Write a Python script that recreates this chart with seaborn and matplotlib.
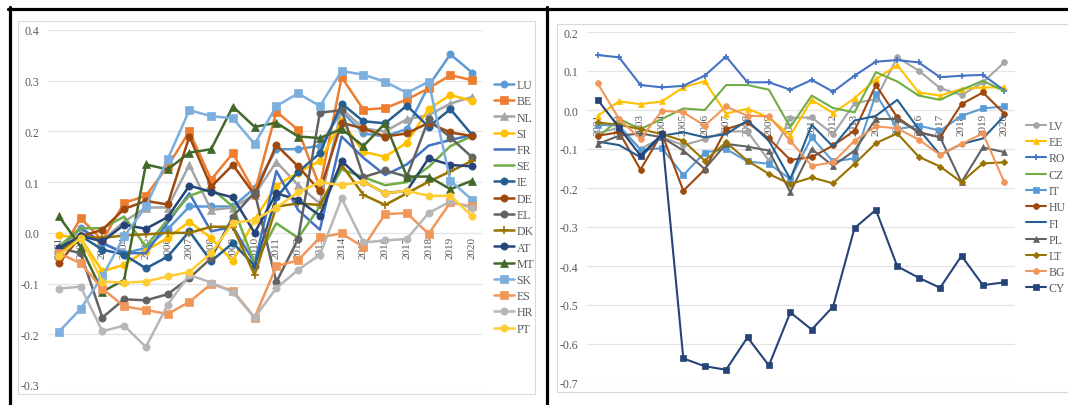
import matplotlib
matplotlib.use("Agg")
import matplotlib.pyplot as plt
import seaborn as sns
from matplotlib.lines import Line2D
from matplotlib.patches import Rectangle

# ================== data ==================
YEARS = list(range(2001, 2021))

# left panel
LU = [-0.03, 0.01, -0.02, -0.04, -0.03, 0.007, 0.052, 0.052, 0.052, 0.088, 0.165, 0.165, 0.172, 0.24, 0.196, 0.19, 0.205, 0.29, 0.352, 0.316]
BE = [-0.045, 0.029, -0.015, 0.059, 0.073, 0.131, 0.2, 0.105, 0.157, 0.08, 0.239, 0.203, 0.09, 0.307, 0.243, 0.246, 0.263, 0.285, 0.311, 0.301]
NL = [-0.025, 0.0, -0.015, 0.022, 0.05, 0.05, 0.134, 0.045, 0.05, 0.075, 0.14, 0.094, 0.058, 0.245, 0.206, 0.2, 0.224, 0.232, 0.255, 0.268]
SI = [-0.005, -0.01, -0.076, -0.063, -0.035, -0.01, 0.022, -0.01, -0.056, 0.026, 0.093, 0.119, 0.142, 0.22, 0.16, 0.15, 0.178, 0.244, 0.272, 0.26]
FR = [-0.03, 0.01, -0.02, -0.04, -0.04, 0.02, 0.078, 0.003, 0.012, -0.06, 0.122, 0.045, 0.006, 0.19, 0.148, 0.114, 0.135, 0.172, 0.183, 0.193]
SE = [-0.027, 0.009, 0.009, 0.032, -0.027, 0.026, 0.073, 0.088, 0.052, -0.06, 0.019, -0.01, 0.052, 0.125, 0.11, 0.094, 0.1, 0.13, 0.171, 0.191]
IE = [-0.035, -0.006, -0.033, -0.043, -0.07, -0.047, 0.003, -0.056, -0.02, -0.065, 0.07, 0.12, 0.157, 0.255, 0.22, 0.216, 0.251, 0.209, 0.244, 0.193]
DE = [-0.06, -0.007, 0.006, 0.047, 0.063, 0.056, 0.19, 0.091, 0.134, 0.075, 0.173, 0.131, 0.083, 0.217, 0.206, 0.19, 0.196, 0.217, 0.198, 0.191]
EL = [-0.03, -0.04, -0.167, -0.131, -0.133, -0.121, -0.089, -0.05, 0.032, 0.08, -0.097, -0.012, 0.237, 0.242, 0.11, 0.123, 0.111, 0.224, 0.188, 0.149]
DK = [-0.04, -0.007, -0.01, -0.005, -0.003, 0.0, 0.0, 0.012, 0.012, -0.083, 0.052, 0.058, 0.055, 0.134, 0.075, 0.055, 0.078, 0.101, 0.121, 0.142]
AT = [-0.03, -0.006, -0.017, 0.016, 0.008, 0.031, 0.093, 0.081, 0.07, 0.0, 0.078, 0.065, 0.034, 0.142, 0.101, 0.078, 0.083, 0.147, 0.134, 0.131]
MT = [0.033, -0.027, -0.116, -0.093, 0.135, 0.125, 0.158, 0.165, 0.249, 0.209, 0.217, 0.19, 0.187, 0.205, 0.171, 0.216, 0.111, 0.111, 0.086, 0.103]
SK = [-0.195, -0.15, -0.086, -0.007, 0.052, 0.145, 0.242, 0.23, 0.226, 0.175, 0.25, 0.275, 0.25, 0.319, 0.312, 0.298, 0.276, 0.298, 0.103, 0.065]
ES = [-0.04, -0.06, -0.11, -0.145, -0.152, -0.16, -0.136, -0.101, -0.114, -0.167, -0.066, -0.054, -0.009, -0.001, -0.028, 0.037, 0.039, -0.002, 0.06, 0.052]
HR = [-0.11, -0.106, -0.194, -0.183, -0.225, -0.142, -0.083, -0.098, -0.117, -0.167, -0.109, -0.073, -0.043, 0.068, -0.019, -0.015, -0.012, 0.039, 0.062, 0.049]
PT = [-0.045, -0.01, -0.096, -0.098, -0.096, -0.086, -0.077, -0.04, 0.02, 0.025, 0.05, 0.08, 0.1, 0.094, 0.101, 0.078, 0.083, 0.073, 0.073, 0.033]

# right panel
LV = [-0.06, -0.045, -0.1, -0.07, -0.09, -0.075, -0.055, -0.055, -0.13, -0.02, -0.019, -0.062, 0.017, 0.028, 0.135, 0.101, 0.056, 0.038, 0.071, 0.122]
EE = [-0.015, 0.022, 0.015, 0.022, 0.058, 0.074, -0.009, 0.003, -0.019, -0.065, 0.026, -0.008, 0.03, 0.079, 0.115, 0.045, 0.037, 0.054, 0.058, 0.058]
RO = [0.141, 0.135, 0.064, 0.058, 0.062, 0.088, 0.137, 0.071, 0.071, 0.052, 0.077, 0.047, 0.088, 0.124, 0.128, 0.122, 0.084, 0.088, 0.09, 0.05]
CZ = [-0.07, -0.023, -0.049, -0.023, 0.004, 0.0, 0.064, 0.064, 0.052, -0.044, 0.037, 0.005, -0.006, 0.097, 0.073, 0.037, 0.026, 0.052, 0.075, 0.048]
IT = [-0.038, -0.04, -0.102, -0.098, -0.167, -0.109, -0.1, -0.132, -0.138, -0.177, -0.07, -0.132, -0.124, 0.041, -0.049, -0.04, -0.053, -0.015, 0.004, 0.009]
HU = [-0.066, -0.057, -0.153, -0.06, -0.207, -0.153, -0.049, -0.032, -0.073, -0.128, -0.121, -0.091, -0.053, 0.064, -0.019, -0.057, -0.07, 0.015, 0.045, -0.009]
FI = [-0.081, -0.09, -0.121, -0.066, -0.057, -0.07, -0.062, -0.027, -0.079, -0.177, -0.038, -0.094, -0.027, -0.015, 0.026, -0.049, -0.115, -0.087, -0.073, -0.015]
PL = [-0.087, -0.066, -0.06, -0.07, -0.104, -0.151, -0.087, -0.094, -0.104, -0.211, -0.1, -0.143, -0.104, -0.023, -0.023, -0.057, -0.07, -0.185, -0.096, -0.108]
LT = [-0.032, -0.038, -0.049, -0.062, -0.079, -0.13, -0.083, -0.13, -0.164, -0.19, -0.173, -0.188, -0.138, -0.085, -0.06, -0.12, -0.145, -0.185, -0.137, -0.134]
BG = [0.068, -0.023, -0.074, -0.002, -0.006, -0.04, 0.009, -0.015, -0.016, -0.079, -0.143, -0.134, -0.079, -0.042, -0.047, -0.076, -0.115, -0.087, -0.06, -0.185]
CY = [0.026, -0.045, -0.117, -0.062, -0.637, -0.657, -0.666, -0.583, -0.655, -0.519, -0.563, -0.504, -0.303, -0.256, -0.401, -0.43, -0.456, -0.374, -0.449, -0.442]

LEFT_TICKS = [-0.3, -0.2, -0.1, 0.0, 0.1, 0.2, 0.3, 0.4]
RIGHT_TICKS = [-0.7, -0.6, -0.5, -0.4, -0.3, -0.2, -0.1, 0.0, 0.1, 0.2]

# (name, values, colour, marker)
LEFT_SERIES = [
    ("LU", LU, "#5B9BD5", "o"), ("BE", BE, "#ED7D31", "s"), ("NL", NL, "#A5A5A5", "^"),
    ("SI", SI, "#FFC000", "o"), ("FR", FR, "#4472C4", None), ("SE", SE, "#70AD47", None),
    ("IE", IE, "#255E91", "o"), ("DE", DE, "#9E480E", "o"), ("EL", EL, "#636363", "o"),
    ("DK", DK, "#997300", "+"), ("AT", AT, "#264478", "o"), ("MT", MT, "#43682B", "^"),
    ("SK", SK, "#7CAFDD", "s"), ("ES", ES, "#F1975A", "s"), ("HR", HR, "#B7B7B7", "o"),
    ("PT", PT, "#FFCD33", "o"),
]
RIGHT_SERIES = [
    ("LV", LV, "#A5A5A5", "o"), ("EE", EE, "#FFC000", "^"), ("RO", RO, "#4472C4", "+"),
    ("CZ", CZ, "#70AD47", None), ("IT", IT, "#5B9BD5", "s"), ("HU", HU, "#9E480E", "o"),
    ("FI", FI, "#255E91", None), ("PL", PL, "#636363", "^"), ("LT", LT, "#997300", "D"),
    ("BG", BG, "#F1975A", "o"), ("CY", CY, "#264478", "s"),
]
# ==========================================

W, H = 1068, 406
TXT = "#595959"


def fx(x):
    return x / W


def fy(y):
    return 1 - y / H


def draw_panel(ax, series, ticks, lw, ms):
    for name, vals, col, mk in series:
        kw = dict(marker=mk, markersize=ms, markeredgecolor=col, markerfacecolor=col,
                  markeredgewidth=1.2 if mk == "+" else 0.5) if mk else {}
        if mk == "D":
            kw["markersize"] = ms * 0.8
        sns.lineplot(x=YEARS, y=vals, color=col, linewidth=lw, label=name, ax=ax, **kw)

    ax.set_xlim(2000.5, 2020.5)
    ax.set_ylim(ticks[0], ticks[-1])
    for s in ax.spines.values():
        s.set_visible(False)
    # category labels sit on the zero line, like Excel
    ax.spines["bottom"].set_position(("data", 0))
    ax.set_yticks(ticks)
    ax.set_yticklabels([f"{t:.1f}" for t in ticks])
    ax.set_xticks(YEARS)
    ax.set_xticklabels([str(y) for y in YEARS])
    ax.tick_params(axis="x", length=0, pad=2, labelsize=8, colors=TXT, labelrotation=90)
    ax.tick_params(axis="y", length=0, pad=6, labelsize=8.5, colors=TXT)
    ax.yaxis.grid(True, color="#E4E4E4", linewidth=0.9)
    ax.xaxis.grid(False)
    ax.set_xlabel("")
    ax.set_ylabel("")
    ax.set_facecolor("none")


def main():
    sns.set_style("white")
    plt.rcParams["font.family"] = ["Liberation Serif", "DejaVu Serif"]
    plt.rcParams["axes.unicode_minus"] = False

    fig = plt.figure(figsize=(W / 100, H / 100), dpi=100)

    # chart-area borders (light grey, Excel style)
    fig.add_artist(Rectangle((fx(18), fy(395)), fx(535) - fx(18), fy(22) - fy(395),
                             transform=fig.transFigure, fill=False, ec="#D9D9D9", lw=0.8))
    fig.add_artist(Rectangle((fx(557), fy(393)), fx(1075) - fx(557), fy(25) - fy(393),
                             transform=fig.transFigure, fill=False, ec="#D9D9D9", lw=0.8))

    ax1 = fig.add_axes([fx(48), fy(386), fx(483) - fx(48), fy(31) - fy(386)])
    ax2 = fig.add_axes([fx(587), fy(384), fx(1015) - fx(587), fy(33) - fy(384)])

    draw_panel(ax1, LEFT_SERIES, LEFT_TICKS, lw=1.8, ms=5.2)
    draw_panel(ax2, RIGHT_SERIES, RIGHT_TICKS, lw=1.5, ms=4.2)

    leg_kw = dict(loc="upper left", bbox_transform=fig.transFigure, frameon=False,
                  fontsize=8.5, handlelength=1.7, handletextpad=0.2, labelspacing=0.36,
                  borderpad=0, borderaxespad=0, labelcolor=TXT)
    ax1.legend(bbox_to_anchor=(fx(494), fy(80)), **leg_kw)
    ax2.legend(bbox_to_anchor=(fx(1026), fy(121)), **leg_kw)

    # black outer frames
    for x0, y0, x1, y1 in [(8, 9.5, 1068, 9.5), (9.5, 8, 9.5, 406), (546.5, 8, 546.5, 406)]:
        fig.add_artist(Line2D([fx(x0), fx(x1)], [fy(y0), fy(y1)], transform=fig.transFigure,
                              color="black", linewidth=2.3))

    fig.savefig("out.png", dpi=100)


if __name__ == "__main__":
    main()
